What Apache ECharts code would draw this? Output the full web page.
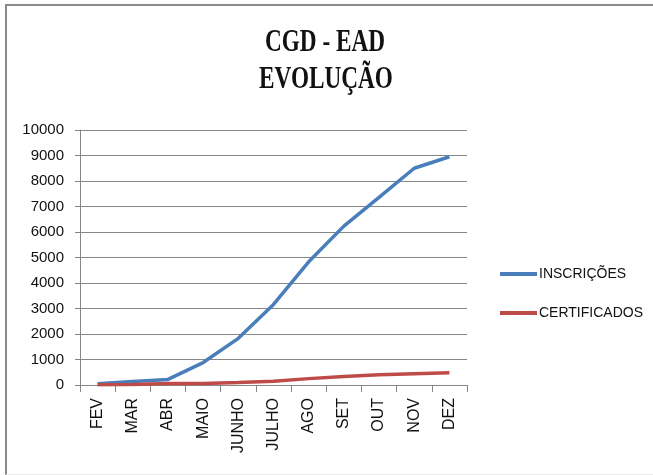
<!DOCTYPE html>
<html>
<head>
<meta charset="utf-8">
<script src="https://cdn.jsdelivr.net/npm/echarts@6/dist/echarts.min.js"></script>
<style>
	html, body { margin: 0; padding: 0; background: #fff; }
	#wrap { position: relative; width: 653px; height: 475px; }
	#frame {
		position: absolute; left: 5px; top: 4px; width: 646px; height: 468px;
		border-top: 2px solid #8a8a8a; border-left: 2px solid #8a8a8a;
		border-right: 1px solid #ececec; border-bottom: 1px solid #ececec;
	}
	#main { position: absolute; left: 0; top: 0; width: 653px; height: 475px; }
</style>
</head>
<body>
<div id="wrap">
	<div id="frame"></div>
	<div id="main"></div>
</div>
<script>
	// meses
	var meses = ['FEV', 'MAR', 'ABR', 'MAIO', 'JUNHO', 'JULHO', 'AGO', 'SET', 'OUT', 'NOV', 'DEZ'];
	// valores
	var inscricoes = [50, 140, 220, 880, 1830, 3160, 4830, 6230, 7360, 8500, 8950];
	var certificados = [10, 20, 60, 55, 100, 150, 250, 330, 400, 440, 480];
	var titulo = ['CGD - EAD', 'EVOLUÇÃO'];

	var myChart = echarts.init(document.getElementById('main'));

	var fonteTitulo = 'bold 31px "Liberation Serif"';

	var option = {
		animation: false,
		// título (fonte estreita: texto comprimido na horizontal)
		graphic: [
			{
				type: 'text', x: 325, y: 43, scaleX: 0.75,
				style: { text: titulo[0], font: fonteTitulo, fill: '#111', textAlign: 'center', textVerticalAlign: 'middle' }
			},
			{
				type: 'text', x: 326, y: 80, scaleX: 0.75,
				style: { text: titulo[1], font: fonteTitulo, fill: '#111', textAlign: 'center', textVerticalAlign: 'middle' }
			}
		],
		legend: {
			orient: 'vertical',
			left: 495,
			top: 262,
			itemGap: 25,
			itemWidth: 37,
			itemHeight: 4,
			data: [
				{ name: 'INSCRIÇÕES', icon: 'rect' },
				{ name: 'CERTIFICADOS', icon: 'rect' }
			],
			textStyle: {
				fontFamily: 'Liberation Sans',
				fontSize: 14,
				color: '#111',
				padding: [0, 0, 0, -3]
			}
		},
		grid: {
			left: 80,
			right: 186,
			top: 130,
			bottom: 90
		},
		xAxis: {
			type: 'category',
			data: meses,
			boundaryGap: true,
			axisLine: { lineStyle: { color: '#868686' } },
			axisTick: { show: true, length: 7, lineStyle: { color: '#868686' } },
			axisLabel: {
				interval: 0,
				rotate: 90,
				margin: 13,
				fontFamily: 'Liberation Sans',
				fontSize: 16,
				color: '#111'
			}
		},
		yAxis: {
			type: 'value',
			min: 0,
			max: 10000,
			interval: 1000,
			axisLine: { show: true, lineStyle: { color: '#868686' } },
			axisTick: { show: true, length: 5, lineStyle: { color: '#868686' } },
			splitLine: { lineStyle: { color: '#868686' } },
			axisLabel: {
				margin: 16,
				fontFamily: 'Liberation Sans',
				fontSize: 15,
				color: '#111',
				formatter: function (v) { return String(v); }
			}
		},
		series: [
			{
				name: 'INSCRIÇÕES',
				type: 'line',
				data: inscricoes,
				symbol: 'none',
				lineStyle: { width: 3.5, color: '#4a7ebb' },
				itemStyle: { color: '#4a7ebb' }
			},
			{
				name: 'CERTIFICADOS',
				type: 'line',
				data: certificados,
				symbol: 'none',
				lineStyle: { width: 3.5, color: '#be4b48' },
				itemStyle: { color: '#be4b48' }
			}
		]
	};

	myChart.setOption(option);
</script>
</body>
</html>
